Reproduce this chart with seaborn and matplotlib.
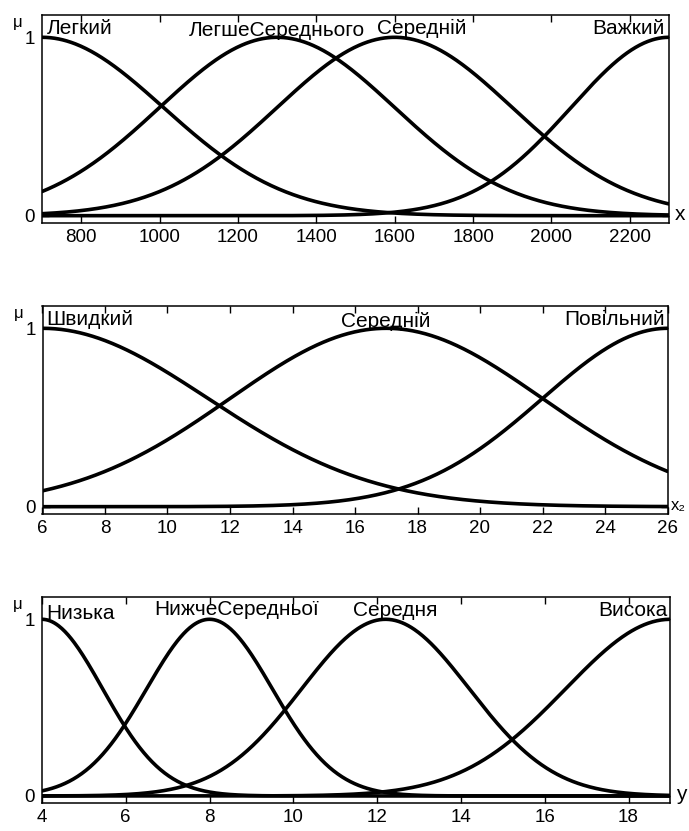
import numpy as np
import pandas as pd
import matplotlib
matplotlib.use("Agg")
import matplotlib.pyplot as plt
import seaborn as sns

sns.set_style("white")
plt.rcParams["font.family"] = ["Liberation Sans", "DejaVu Sans"]

# ---------------- data (Gaussian membership functions) ----------------
x1_names = ["Легкий", "ЛегшеСереднього", "Середній", "Важкий"]
x1_centers = [700, 1300, 1600, 2300]
x1_sigmas = [310, 300, 300, 250]
x1_range = [700, 2300]
x1_ticks = [800, 1000, 1200, 1400, 1600, 1800, 2000, 2200]

x2_names = ["Швидкий", "Середній", "Повільний"]
x2_centers = [6, 17, 26]
x2_sigmas = [5.3, 5.0, 4.0]
x2_range = [6, 26]
x2_ticks = [6, 8, 10, 12, 14, 16, 18, 20, 22, 24, 26]

y_names = ["Низька", "НижчеСередньої", "Середня", "Висока"]
y_centers = [4, 8, 12.2, 19]
y_sigmas = [1.45, 1.5, 2.0, 2.5]
y_range = [4, 19]
y_ticks = [4, 6, 8, 10, 12, 14, 16, 18]

# ---------------- layout ----------------
W, H = 689, 831
FS_TICK = 13.5
FS_LAB = 15
LW = 2.6

# label placement: (x in data units, horizontal alignment, baseline y)
x1_label_pos = [(712, "left", 1.02), (1300, "center", 1.005), (1668, "center", 1.02), (2290, "right", 1.02)]
x2_label_pos = [(6.12, "left", 1.02), (17.0, "center", 1.01), (25.93, "right", 1.02)]
y_label_pos = [(4.1, "left", 1.0), (8.64, "center", 1.022), (12.43, "center", 1.02), (18.92, "right", 1.02)]

panels = [
    dict(names=x1_names, centers=x1_centers, sigmas=x1_sigmas, rng=x1_range, ticks=x1_ticks,
         labels=x1_label_pos, var="x", var_fs=FS_LAB, var_dx=6, box=(42, 669, 15, 223)),
    dict(names=x2_names, centers=x2_centers, sigmas=x2_sigmas, rng=x2_range, ticks=x2_ticks,
         labels=x2_label_pos, var="x₂", var_fs=12, var_dx=3, box=(42.5, 667.5, 306, 514)),
    dict(names=y_names, centers=y_centers, sigmas=y_sigmas, rng=y_range, ticks=y_ticks,
         labels=y_label_pos, var="y", var_fs=FS_LAB, var_dx=6, box=(41.9, 670.4, 597.2, 803.2)),
]

fig = plt.figure(figsize=(W / 100, H / 100), dpi=100)

for p in panels:
    l, r, t, b = p["box"]
    ax = fig.add_axes([l / W, (H - b) / H, (r - l) / W, (b - t) / H])
    xs = np.linspace(p["rng"][0], p["rng"][1], 600)
    frames = []
    for name, c, s in zip(p["names"], p["centers"], p["sigmas"]):
        frames.append(pd.DataFrame({"x": xs, "mu": np.exp(-((xs - c) ** 2) / (2 * s ** 2)), "mf": name}))
    df = pd.concat(frames, ignore_index=True)
    sns.lineplot(data=df, x="x", y="mu", hue="mf", palette=["black"] * len(p["names"]),
                 linewidth=LW, legend=False, ax=ax, sort=True, estimator=None)
    ax.set_xlim(p["rng"])
    ax.set_ylim(-0.041, 1.125)
    ax.set_xticks(p["ticks"])
    ax.set_xticklabels([str(v) for v in p["ticks"]])
    ax.set_yticks([0, 1])
    ax.set_yticklabels(["0", "1"])
    ax.set_xlabel("")
    ax.set_ylabel("")
    ax.tick_params(axis="both", direction="in", length=5, width=1, labelsize=FS_TICK,
                   top=True, right=True, bottom=True, left=True, pad=4, colors="black")
    ax.tick_params(axis="y", pad=5)
    for sp in ax.spines.values():
        sp.set_visible(True)
        sp.set_linewidth(1.1)
        sp.set_color("black")
    for name, (lx, ha, ly) in zip(p["names"], p["labels"]):
        ax.text(lx, ly, name, ha=ha, va="baseline", fontsize=FS_LAB, color="black")
    # mu label
    ax.annotate("μ", xy=(0, 1), xycoords=("axes fraction", "data"), xytext=(-24, 15),
                textcoords="offset pixels", ha="center", va="center", fontsize=12, color="black",
                annotation_clip=False)
    # variable name at right end
    ax.annotate(p["var"], xy=(1, 0), xycoords=("axes fraction", "data"), xytext=(p["var_dx"], 1),
                textcoords="offset pixels", ha="left", va="center",
                fontsize=p["var_fs"], color="black", annotation_clip=False)

fig.savefig("out.png", dpi=100, facecolor="white")
